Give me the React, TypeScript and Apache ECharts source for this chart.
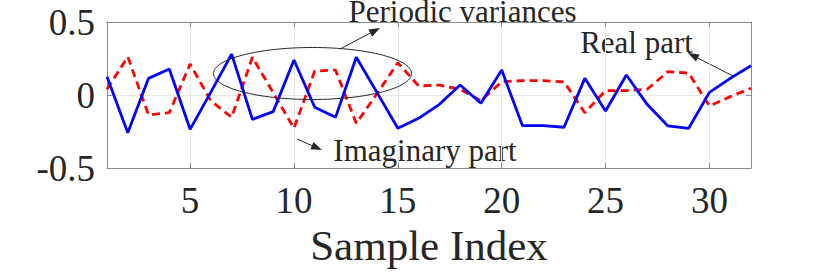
import React, { useEffect, useRef } from "react";
import * as echarts from "echarts";

const sampleIndex = [1, 2, 3, 4, 5, 6, 7, 8, 9, 10, 11, 12, 13, 14, 15, 16, 17, 18, 19, 20, 21, 22, 23, 24, 25, 26, 27, 28, 29, 30, 31, 32];
const realPart = [0.125, -0.258, 0.114, 0.178, -0.235, 0.02, 0.28, -0.167, -0.114, 0.24, -0.084, -0.153, 0.258, 0.016, -0.228, -0.16, -0.064, 0.068, -0.057, 0.171, -0.21, -0.21, -0.221, 0.114, -0.11, 0.137, -0.064, -0.212, -0.228, 0.018, 0.114, 0.2];
const imagPart = [0.039, 0.262, -0.137, -0.121, 0.212, -0.04, -0.153, 0.258, 0.016, -0.228, 0.164, 0.171, -0.194, 0.01, 0.221, 0.062, 0.068, 0.039, -0.039, 0.091, 0.098, 0.098, 0.09, -0.121, 0.03, 0.03, 0.039, 0.16, 0.15, -0.075, -0.011, 0.046];
const xTicks = [5, 10, 15, 20, 25, 30];

const FONT = "'Liberation Serif', 'Times New Roman', serif";
const TEXT = "#262626";
const AXIS = "#8a8a8a";

function arrow(x1: number, y1: number, x2: number, y2: number, headLen = 11, headHalf = 4) {
  const dx = x2 - x1, dy = y2 - y1;
  const L = Math.hypot(dx, dy);
  const ux = dx / L, uy = dy / L;
  const bx = x2 - ux * headLen, by = y2 - uy * headLen;
  return [
    { type: "line", shape: { x1, y1, x2: bx, y2: by }, style: { stroke: TEXT, lineWidth: 1 } },
    {
      type: "polygon",
      shape: { points: [[x2, y2], [bx - uy * headHalf, by + ux * headHalf], [bx + uy * headHalf, by - ux * headHalf]] },
      style: { fill: TEXT },
    },
  ];
}

function label(text: string, x: number, y: number, size = 31) {
  return {
    type: "text",
    x,
    y,
    style: { text, fill: TEXT, font: `${size}px ${FONT}`, align: "center", verticalAlign: "middle" },
  };
}

export default function App() {
  const ref = useRef<HTMLDivElement>(null);
  useEffect(() => {
    if (!ref.current) return;
    const chart = echarts.init(ref.current, null, { renderer: "svg" });
    const tickCommon = { show: true, inside: true, length: 5, lineStyle: { color: AXIS } };
    const lineCommon = { show: true, onZero: false, lineStyle: { color: AXIS, width: 1 } };
    chart.setOption({
      animation: false,
      backgroundColor: "#ffffff",
      grid: { left: 107, right: 79, top: 22, bottom: 107, containLabel: false },
      xAxis: [
        {
          type: "value",
          min: 1,
          max: 32,
          position: "bottom",
          name: "Sample Index",
          nameLocation: "middle",
          nameGap: 56,
          nameTextStyle: { fontFamily: FONT, fontSize: 43, color: TEXT },
          axisLine: lineCommon,
          axisTick: { ...tickCommon, customValues: xTicks },
          axisLabel: { customValues: xTicks, fontFamily: FONT, fontSize: 37, color: TEXT, margin: 14 },
          splitLine: { show: true, lineStyle: { color: "#e8e8e8", width: 1 } },
        },
        {
          type: "value",
          min: 1,
          max: 32,
          position: "top",
          axisLine: lineCommon,
          axisTick: { ...tickCommon, customValues: xTicks },
          axisLabel: { show: false },
          splitLine: { show: false },
        },
      ],
      yAxis: [
        {
          type: "value",
          min: -0.5,
          max: 0.5,
          interval: 0.5,
          position: "left",
          axisLine: lineCommon,
          axisTick: tickCommon,
          axisLabel: { fontFamily: FONT, fontSize: 37, color: TEXT, margin: 12 },
          splitLine: { show: true, lineStyle: { color: "#e8e8e8", width: 1 } },
        },
        {
          type: "value",
          min: -0.5,
          max: 0.5,
          interval: 0.5,
          position: "right",
          axisLine: lineCommon,
          axisTick: tickCommon,
          axisLabel: { show: false },
          splitLine: { show: false },
        },
      ],
      series: [
        {
          name: "Imaginary part",
          type: "line",
          xAxisIndex: 0,
          yAxisIndex: 0,
          data: sampleIndex.map((x, i) => [x, imagPart[i]]),
          showSymbol: false,
          lineStyle: { color: "#ff0000", width: 2.8, type: [8, 5] },
          z: 2,
        },
        {
          name: "Real part",
          type: "line",
          xAxisIndex: 0,
          yAxisIndex: 0,
          data: sampleIndex.map((x, i) => [x, realPart[i]]),
          showSymbol: false,
          lineStyle: { color: "#0000ff", width: 2.8 },
          z: 3,
        },
      ],
      graphic: [
        {
          type: "ellipse",
          shape: { cx: 312.5, cy: 73.5, rx: 99, ry: 26 },
          style: { fill: "none", stroke: TEXT, lineWidth: 1 },
          z: 10,
        },
        ...arrow(340, 49, 380, 28),
        ...arrow(733, 76, 688, 53),
        ...arrow(297, 139, 322, 150),
        label("Periodic variances", 462.5, 11, 31),
        label("Real part", 636.5, 42.5),
        label("Imaginary part", 425, 150.5),
      ],
    });
    return () => chart.dispose();
  }, []);
  return <div ref={ref} style={{ position: "fixed", left: 0, top: 0, width: 830, height: 275 }} />;
}
